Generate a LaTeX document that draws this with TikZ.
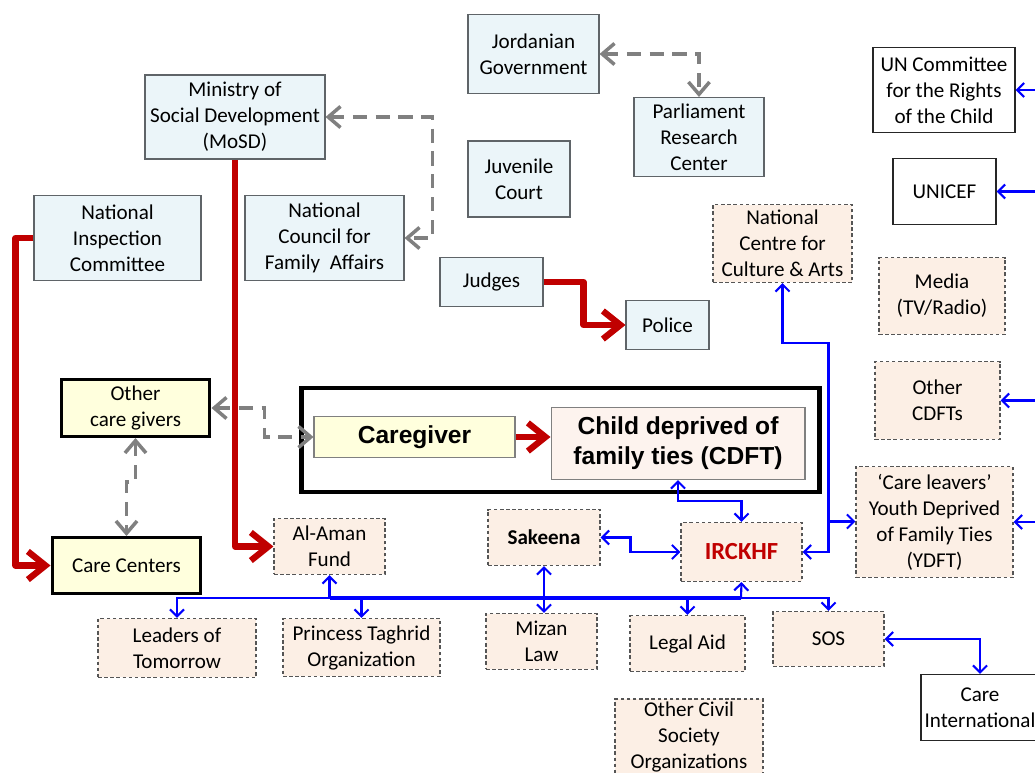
\documentclass[tikz,border=0pt]{standalone}
\usepackage{fontspec}
\setmainfont{Carlito}
\newfontfamily\arialfont{Liberation Sans}
\usepackage{tikz}
\usetikzlibrary{shapes}
\usetikzlibrary{arrows.meta}
\definecolor{govblue}{HTML}{EBF5F9}
\definecolor{govline}{HTML}{5F6468}
\definecolor{ngopeach}{HTML}{FCEFE5}
\definecolor{ngoline}{HTML}{555555}
\definecolor{careyellow}{HTML}{FFFFDD}
\definecolor{cdftpink}{HTML}{FDF3EE}
\definecolor{hierred}{HTML}{C00000}
\definecolor{coopgray}{HTML}{808080}
\definecolor{assocblue}{HTML}{0000FF}
\tikzstyle{box}=[rectangle,align=center,inner sep=1pt,
        font=\fontsize{12}{14.8}\selectfont]
\tikzstyle{gov}=[box,draw=govline,line width=0.6pt,fill=govblue]
\tikzstyle{ngo}=[box,draw=ngoline,line width=0.6pt,
        dash pattern=on 2pt off 1.5pt,fill=ngopeach]
\tikzstyle{intl}=[box,draw=black!85,line width=0.6pt,fill=white]
\tikzstyle{carer}=[box,draw=black,line width=1.7pt,fill=careyellow]
\tikzstyle{corebox}=[rectangle,draw=black,line width=2.8pt]
\tikzstyle{core}=[box,draw=gray,line width=0.6pt,
        font=\arialfont\bfseries\fontsize{14}{17}\selectfont]
\tikzstyle{hier}=[->,>={Straight Barb[length=10pt,width=16pt]},
        draw=hierred,line width=3.6pt,line join=round]
\tikzstyle{coop}=[<->,>={Straight Barb[length=7pt,width=12pt]},
        draw=coopgray,line width=2pt,dash pattern=on 8pt off 5pt]
\tikzstyle{assoc}=[>={Straight Barb[length=4pt,width=8pt]},
        draw=assocblue,line width=1.2pt]

\begin{document}
\begin{tikzpicture}[x=0.02cm,y=-0.02cm]
\path[use as bounding box,clip] (0,0) rectangle (1035,773);
\node[gov,minimum width=26.2mm,minimum height=15.8mm] (jordan) at (533.5,54) {Jordanian\\Government};
\node[gov,minimum width=26mm,minimum height=15.8mm] (parliament) at (699,137) {Parliament\\Research\\Center};
\node[gov,minimum width=36mm,minimum height=16.8mm] (mosd) at (235,117) {Ministry of\\Social Development\\(MoSD)};
\node[gov,minimum width=20.4mm,minimum height=15.2mm] (juvenile) at (519,179) {Juvenile\\Court};
\node[gov,minimum width=33.4mm,minimum height=17mm] (inspection) at (117.5,238) {National\\Inspection\\Committee};
\node[gov,minimum width=31.8mm,minimum height=17mm] (ncfa) at (324.5,238) {National\\Council for\\Family\ \ Affairs};
\node[gov,minimum width=20.6mm,minimum height=9.8mm] (judges) at (491.5,282) {Judges};
\node[gov,minimum width=16.6mm,minimum height=9.8mm] (police) at (667.5,325) {Police};
\node[intl,minimum width=28.4mm,minimum height=17mm] (un) at (944,90) {UN Committee\\for the Rights\\of the Child};
\node[intl,minimum width=20.6mm,minimum height=13.2mm] (unicef) at (944.5,191.5) {UNICEF};
\node[ngo,minimum width=27.8mm,minimum height=15.6mm] (ncca) at (782.5,243.5) {National\\Centre for\\Culture \& Arts};
\node[ngo,minimum width=25.2mm,minimum height=15.4mm] (media) at (942,296) {Media\\(TV/Radio)};
\node[ngo,minimum width=25mm,minimum height=15.6mm] (othercdft) at (937.5,400.5) {Other\\CDFTs};
\node[ngo,minimum width=31.4mm,minimum height=22.2mm] (ydft) at (934.5,522) {‘Care leavers’\\Youth Deprived\\of Family Ties\\(YDFT)};
\node[carer,minimum width=29.8mm,minimum height=11.4mm] (othercare) at (135.5,408) {Other\\care givers};
\node[corebox,minimum width=103.8mm,minimum height=20.8mm] (frame) at (560.5,440) {};
\node[core,fill=careyellow,minimum width=40.2mm,minimum height=8.2mm] (caregiver) at (414.5,437) {Caregiver};
\node[core,fill=cdftpink,minimum width=50.8mm,minimum height=14.4mm] (cdft) at (678,443.5) {Child deprived of\\family ties (CDFT)};
\node[carer,minimum width=29.8mm,minimum height=11.2mm] (carecenters) at (126.5,565.5) {Care Centers};
\node[ngo,minimum width=22.2mm,minimum height=11.2mm] (alaman) at (329.5,546.5) {Al-Aman\\Fund};
\node[ngo,font=\fontsize{12}{14.8}\selectfont\bfseries,minimum width=22.4mm,minimum height=11.2mm] (sakeena) at (544,537.5) {Sakeena};
\node[ngo,text=hierred,font=\fontsize{14}{17}\selectfont\bfseries,minimum width=24.2mm,minimum height=11.8mm] (irckhf) at (741.5,552) {IRCKHF};
\node[ngo,minimum width=31.6mm,minimum height=11.8mm] (leaders) at (177,648) {Leaders of\\Tomorrow};
\node[ngo,minimum width=31.4mm,minimum height=11.6mm] (princess) at (361.5,647.5) {Princess Taghrid\\Organization};
\node[ngo,minimum width=22.2mm,minimum height=11.2mm] (mizan) at (541.5,641.5) {Mizan\\Law};
\node[ngo,minimum width=23mm,minimum height=11.2mm] (legal) at (687.5,643.5) {Legal Aid};
\node[ngo,minimum width=22.2mm,minimum height=11mm] (sos) at (828.5,639) {SOS};
\node[intl,minimum width=23.6mm,minimum height=13.2mm] (careint) at (980,707.5) {Care\\International};
\node[ngo,minimum width=29.6mm,minimum height=15.2mm] (civil) at (689,737) {Other Civil\\Society\\Organizations};
\coordinate (spine) at (828,521.5);
\coordinate (bus) at (741,598);
\coordinate (rail) at (1060,0);
%connectors
\draw[coop] (jordan.east) -| (parliament.north);
\draw[coop] (mosd.east) -- ++(107,0) |- (ncfa.east);
\draw[coop] (othercare.east) -- ++(53,0) |- (caregiver.west);
\draw[coop] (othercare.south) -- ++(0,44) -| (carecenters.north);
\draw[hier] (inspection.west) -- ++(-18,0) |- (carecenters.west);
\draw[hier] (mosd.south) |- (alaman.west);
\draw[hier] (judges.east) -- ++(40,0) |- (police.west);
\draw[hier] (caregiver.east) -- (caregiver.east -| cdft.west);
\draw[assoc,<->] (ncca.south) -- ++(0,60) -- ++(46,0) |- (irckhf.east);
\draw[assoc,->] (spine) -- (spine -| ydft.west);
\draw[assoc,<->] (cdft.south) -- ++(0,21) -| (irckhf.north);
\draw[assoc,<->] (sakeena.east) -- ++(30,0) |- (irckhf.west);
\draw[assoc,<-] (irckhf.south) -- (bus);
\draw[assoc,line width=2.4pt] (bus) -- (bus -| alaman.south);
\draw[assoc,->] (bus) -| (leaders.north);
\draw[assoc,->] (bus) -| (princess.north);
\draw[assoc,->] (bus) -| (legal.north);
\draw[assoc,->] (bus) -| (sos.north);
\draw[assoc,->] (alaman.south |- bus) -- (alaman.south);
\draw[assoc,<->] (sakeena.south) -- (sakeena.south |- mizan.north);
\draw[assoc,<->] (sos.east) -| (careint.north);
\draw[assoc,<-] (un.east) -- (un.east -| rail);
\draw[assoc,<-] (unicef.east) -- (unicef.east -| rail);
\draw[assoc,<-] (othercdft.east) -- (othercdft.east -| rail);
\draw[assoc,<-] (ydft.east) -- (ydft.east -| rail);
\end{tikzpicture}
\end{document}
